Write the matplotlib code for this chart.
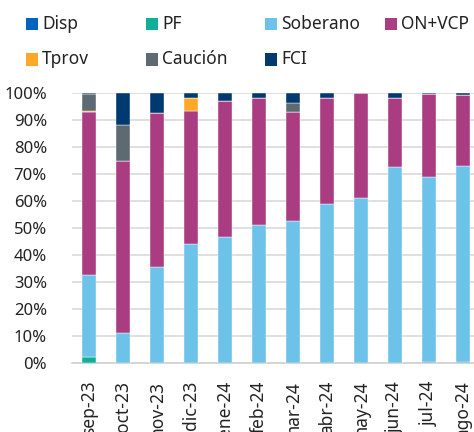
import matplotlib
matplotlib.use("Agg")
import matplotlib.pyplot as plt
from matplotlib.patches import Rectangle
import numpy as np

plt.rcParams['font.family'] = ['Noto Sans', 'DejaVu Sans']

categories = ["sep-23", "oct-23", "nov-23", "dic-23", "ene-24", "feb-24",
              "mar-24", "abr-24", "may-24", "jun-24", "jul-24", "ago-24"]
disp     = [0.0, 0.0, 0.0, 0.0, 0.0, 0.0, 0.0, 0.0, 0.0, 0.0, 0.3, 0.3]
pf       = [2.2, 0.0, 0.0, 0.0, 0.0, 0.0, 0.0, 0.0, 0.0, 0.0, 0.0, 0.0]
soberano = [30.2, 11.0, 35.4, 44.0, 46.4, 51.0, 52.5, 58.8, 60.9, 72.5, 68.4, 72.4]
on_vcp   = [60.4, 63.6, 57.0, 49.3, 50.5, 46.9, 40.2, 39.1, 38.9, 25.4, 31.0, 26.6]
tprov    = [0.3, 0.0, 0.2, 4.6, 0.0, 0.0, 0.0, 0.0, 0.0, 0.0, 0.0, 0.0]
caucion  = [6.4, 13.5, 0.0, 0.0, 0.0, 0.0, 3.4, 0.0, 0.0, 0.0, 0.0, 0.0]
fci      = [0.5, 11.9, 7.4, 2.1, 3.1, 2.1, 3.9, 2.1, 0.2, 2.1, 0.3, 0.7]

series = [
    ("Disp", disp, "#0563C1"),
    ("PF", pf, "#10B096"),
    ("Soberano", soberano, "#6DC2E9"),
    ("ON+VCP", on_vcp, "#AA3D81"),
    ("Tprov", tprov, "#FFA828"),
    ("Caución", caucion, "#5E6A72"),
    ("FCI", fci, "#003A70"),
]

fig = plt.figure(figsize=(4.74, 4.32), dpi=100)
ax = fig.add_axes([72/474, 69.3/432, 408/474, 270/432])

x = np.arange(len(categories))
bottom = np.zeros(len(categories))
for name, vals, col in series:
    v = np.array(vals) / 100.0
    ax.bar(x, v, width=0.41, bottom=bottom, color=col, edgecolor="white",
           linewidth=0.3, zorder=3)
    bottom += v

ax.set_xlim(-0.5, 11.5)
ax.set_ylim(0, 1)
ax.set_yticks(np.arange(0, 1.01, 0.1))
ax.set_yticklabels([f"{int(round(t*100))}%" for t in np.arange(0, 1.01, 0.1)],
                   fontsize=12, color="#222222")
ax.set_xticks(x)
ax.set_xticklabels(categories, rotation=90, fontsize=12.5, color="#222222", va="top")
ax.tick_params(axis="both", length=0)
ax.tick_params(axis="y", pad=18)
ax.tick_params(axis="x", pad=13)
ax.yaxis.grid(True, color="#D9D9D9", linewidth=1.2, zorder=0)
ax.set_axisbelow(True)
for s in ["top", "right", "left"]:
    ax.spines[s].set_visible(False)
ax.spines["bottom"].set_color("#D0D0D0")
ax.spines["bottom"].set_linewidth(1.2)

# legend drawn manually on a uniform grid
col_x = [26, 146, 265, 385]
row_y = [24, 59.5]
for i, (name, vals, col) in enumerate(series):
    r, c = divmod(i, 4)
    px, py = col_x[c], row_y[r]
    fig.add_artist(Rectangle((px/474, 1 - (py + 6)/432), 12/474, 12/432,
                             transform=fig.transFigure, facecolor=col,
                             edgecolor="none"))
    fig.text((px + 16)/474, 1 - py/432, name, fontsize=12.5, color="#222222",
             va="center", ha="left")

fig.savefig("out.png", dpi=100)
